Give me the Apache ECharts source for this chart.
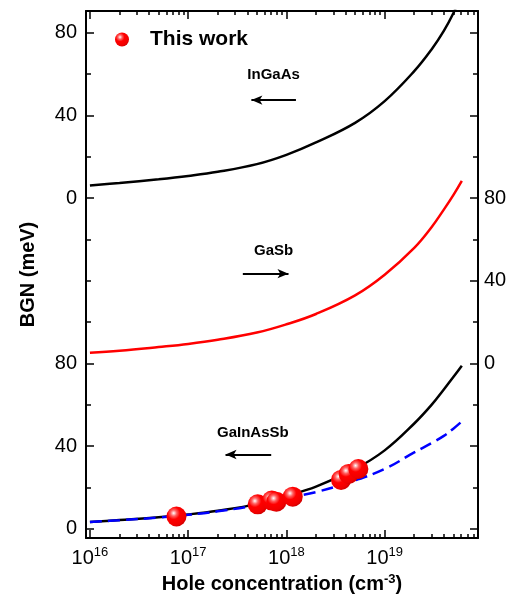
<!DOCTYPE html>
<html>
<head>
<meta charset="utf-8">
<script src="https://cdn.jsdelivr.net/npm/echarts@6/dist/echarts.min.js"></script>
<style>
  html, body { margin: 0; padding: 0; background: #fff; }
  #bgn { width: 515px; height: 600px; }
</style>
</head>
<body>
<div id="bgn"></div>
<script>
// hole concentration (cm^-3) for the calculated curves
const conc = [1e16, 2e16, 5e16, 1e17, 2e17, 5e17, 1e18, 2e18, 5e18, 1e19, 2e19, 3e19, 4e19, 5e19, 6.1e19];
// BGN (meV) of each material
const ingaas = [6.2, 7.4, 9.2, 10.8, 12.8, 16.5, 21, 27, 36.5, 47, 61.5, 72, 81, 89.5, 99];
const gasb = [5.2, 6.2, 8, 9.5, 11.5, 15, 19, 24, 33, 43, 56, 66, 74.5, 81.5, 88.4];
const gainassb = [3.4, 4.3, 5.6, 7, 8.8, 12, 16, 20.5, 29, 38, 51, 60, 67.5, 73.5, 79];
const gainassbFit = [3.4, 4.2, 5.5, 6.8, 8.5, 11.5, 15, 17.8, 23.5, 29, 37, 41.5, 45, 48.5, 52];
// measured points (this work)
const dotConc = [7.6e16, 5.1e17, 7.1e17, 7.9e17, 1.16e18, 3.6e18, 4.3e18, 5.4e18];
const dotBGN = [6, 11.9, 13.7, 13.2, 15.6, 23.7, 26.6, 29];

// vertical offsets of the stacked panels
const OFF_INGAAS = 160;
const OFF_GASB = 80;

const decades = [16, 17, 18, 19];

var chartDom = document.getElementById('bgn');
var myChart = echarts.init(chartDom);
var option;

const lg = v => Math.log10(v);
const pairs = (xs, ys, off) => xs.map((x, i) => [lg(x), ys[i] + off]);

const minorX = [];
for (let d = 15; d <= 19; d++) {
  for (let k = 2; k <= 9; k++) minorX.push(d + Math.log10(k));
}

const X_MIN = 15.96, X_MAX = 19.95;
const Y_MIN = -4.4, Y_MAX = 250.6;
const FONT = 'Liberation Sans';

const lineAx = { show: true, onZero: false, lineStyle: { color: '#000', width: 2 } };
const tickStyle = { color: '#000', width: 1.5 };

function xAx(pos, major, labels) {
  return {
    type: 'value', position: pos, min: X_MIN, max: X_MAX,
    axisLine: major ? lineAx : { show: false, onZero: false },
    axisTick: { inside: true, length: major ? 8 : 4, lineStyle: tickStyle,
      customValues: major ? decades : minorX },
    axisLabel: labels ? {
      customValues: decades, margin: 8,
      formatter: v => '{b|10}{s|' + Math.round(v) + '}',
      rich: {
        b: { fontSize: 20, fontFamily: FONT, color: '#000' },
        s: { fontSize: 13, fontFamily: FONT, color: '#000', padding: [0, 0, 11, 0] }
      }
    } : { show: false },
    splitLine: { show: false }
  };
}

function yAx(pos, ticks, len, labels, off, showLine) {
  return {
    type: 'value', position: pos, min: Y_MIN, max: Y_MAX,
    axisLine: showLine ? lineAx : { show: false, onZero: false },
    axisTick: { inside: true, length: len, lineStyle: tickStyle, customValues: ticks },
    axisLabel: labels ? {
      customValues: labels, margin: pos === 'left' ? 9 : 6,
      fontSize: 20, fontFamily: FONT, color: '#000',
      formatter: v => String(Math.round(v - off(v)))
    } : { show: false },
    splitLine: { show: false }
  };
}

const bottomX = xAx('bottom', true, true);
bottomX.name = '{t|Hole concentration (cm}{s|-3}{t|)}';
bottomX.nameLocation = 'middle';
bottomX.nameGap = 34;
bottomX.nameTextStyle = {
  rich: {
    t: { fontSize: 20, fontWeight: 'bold', fontFamily: FONT, color: '#000' },
    s: { fontSize: 13, fontWeight: 'bold', fontFamily: FONT, color: '#000', padding: [0, 0, 11, 0] }
  }
};

const leftY = yAx('left', [0, 40, 80, 160, 200, 240], 8, [0, 40, 80, 160, 200, 240],
  v => (v >= OFF_INGAAS ? OFF_INGAAS : 0), true);
leftY.name = 'BGN (meV)';
leftY.nameLocation = 'middle';
leftY.nameGap = 48;
leftY.nameTextStyle = { fontSize: 20, fontWeight: 'bold', fontFamily: FONT, color: '#000' };

const sphere = {
  type: 'radial', x: 0.36, y: 0.33, r: 0.7,
  colorStops: [
    { offset: 0, color: '#ffffff' },
    { offset: 0.22, color: '#ff6060' },
    { offset: 0.45, color: '#ff0000' },
    { offset: 0.85, color: '#f00000' },
    { offset: 1, color: '#d00000' }
  ]
};

// annotation labels and arrows, in data coordinates
const notes = [
  { name: 'InGaAs', x: 7.4e17, y: 219.5, from: 4.4e17, to: 1.25e18, ay: 207.5, dir: 'left' },
  { name: 'GaSb', x: 7.4e17, y: 134.5, from: 3.6e17, to: 1.05e18, ay: 123.5, dir: 'right' },
  { name: 'GaInAsSb', x: 4.55e17, y: 46.5, from: 2.4e17, to: 7.0e17, ay: 36, dir: 'left' }
];

const curve = (name, ys, off, color, type) => ({
  name: name, type: 'line', smooth: 0.4, showSymbol: false, symbol: 'none',
  data: pairs(conc, ys, off), silent: true, z: 3,
  lineStyle: { color: color, width: 2.5, type: type || 'solid' }
});

option = {
  animation: false,
  backgroundColor: '#fff',
  grid: { left: 86, right: 37, top: 11, bottom: 62, containLabel: false },
  legend: {
    data: ['This work'], left: 110, top: 24,
    itemWidth: 14, itemHeight: 14, icon: 'circle',
    textStyle: { fontSize: 21, fontWeight: 'bold', fontFamily: FONT, color: '#000', padding: [0, 0, 0, 16] }
  },
  xAxis: [bottomX, xAx('bottom', false, false), xAx('top', true, false), xAx('top', false, false)],
  yAxis: [
    leftY,
    yAx('left', [20, 60, 100, 120, 140, 180, 220], 5, null, null, false),
    yAx('right', [0, 40, 80, 120, 160, 200, 240], 8, [80, 120, 160], v => OFF_GASB, true),
    yAx('right', [20, 60, 100, 140, 180, 220], 5, null, null, false)
  ],
  series: [
    curve('InGaAs', ingaas, OFF_INGAAS, '#000'),
    curve('GaSb', gasb, OFF_GASB, '#ff0000'),
    curve('GaInAsSb', gainassb, 0, '#000'),
    curve('GaInAsSb fit', gainassbFit, 0, '#0000ff', [12, 6]),
    {
      name: 'This work', type: 'scatter', z: 5,
      data: dotConc.map((c, i) => [lg(c), dotBGN[i]]),
      symbol: 'circle', symbolSize: 20,
      itemStyle: { color: sphere, opacity: 1 }
    },
    {
      name: 'notes', type: 'scatter', symbolSize: 0, silent: true, z: 4,
      itemStyle: { opacity: 1 },
      data: notes.map(n => ({ name: n.name, value: [lg(n.x), n.y] })),
      label: {
        show: true, position: 'inside', formatter: '{b}', opacity: 1,
        fontSize: 15, fontWeight: 'bold', fontFamily: FONT, color: '#000'
      },
      markLine: {
        silent: true, animation: false,
        symbol: ['none', 'none'],
        label: { show: false },
        lineStyle: { color: '#000', width: 2, type: 'solid', opacity: 1 },
        data: notes.map(n => [
          { coord: [lg(n.from), n.ay], symbol: n.dir === 'left' ? 'arrow' : 'none', symbolSize: [7, 11] },
          { coord: [lg(n.to), n.ay], symbol: n.dir === 'right' ? 'arrow' : 'none', symbolSize: [7, 11] }
        ])
      }
    }
  ]
};

option && myChart.setOption(option);
</script>
</body>
</html>
